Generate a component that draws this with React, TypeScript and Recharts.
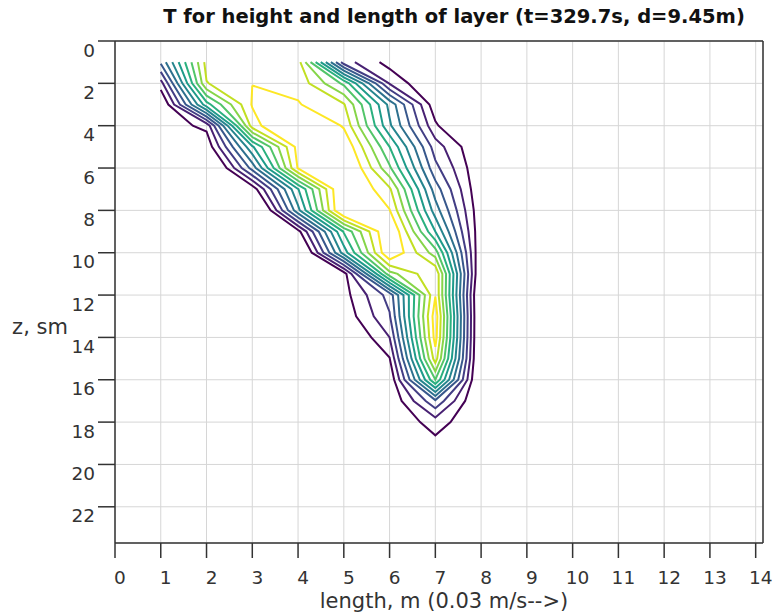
import React from "react";
import { CartesianGrid, ReferenceLine, Scatter, ScatterChart, XAxis, YAxis } from "recharts";

// grid nodes of the temperature field
const xNodes = [1, 2, 3, 4, 5, 6, 7, 8];
const zNodes = [1, 2, 3, 4, 5, 6, 7, 8, 9, 10, 11, 12, 13, 14, 15, 16, 17, 18, 19, 20];

// T along each column, z = 1 .. 20 (top to bottom)
const tAtX1 = [4.2, 1.58, -0.3, 0.3, -0.5, -1.67, -1.5, -2.78, -2, -2, -2, -2, -2, -2, -2, -2, -2, -2, 0, 0];
const tAtX2 = [11.36, 10.95, 7.59, 1.3, 0.2, -1.67, -1.5, -2.78, -2, -2, -2, -2, -2, -2, -2, -2, -2, -2, 0, 0];
const tAtX3 = [11.8, 11.99, 12.09, 11.5, 6.84, 4.4, 0.34, -2.14, -2, -2, -2, -2, -2, -2, -2, -2, -2, -2, 0, 0];
const tAtX4 = [11.45, 11.7, 12.075, 14.0, 12.39, 12.1, 6.94, 5.71, 0.63, -1.34, -2, -2, -2, -2, -2, -2, -2, -2, 0, 0];
const tAtX5 = [2.45, 8.78, 11.1, 11.85, 13, 13.73, 13.54, 13.57, 8.1, 6.47, 0.48, 0.6, 0.3, -0.5, -1, -2, -2, -2, 0, 0];
const tAtX6 = [0.59, 1.9, 5.7, 6.18, 8, 9.18, 11.17, 12.05, 13.3, 13.13, 9.6, 3.4, 2.9, 2.0, 0.95, 0.11, 0, 0, 0, 0];
const tAtX7 = [0, -0.3, 0.3, 1.2, 2.5, 3.3, 4.5, 5.5, 7.0, 9.5, 11.9, 11.95, 12.6, 12.4, 11.5, 9.0, 3.8, 1.5, 0.7, 0];
const tAtX8 = [0, -0.3, -0.5, -1.7, -0.13, 0, 0, 0.14, 0.1, -0.16, -0.49, -1, -1, -1, -1, -1, -0.5, 0, 0, 0];

const levels = [1, 2, 3, 4, 5, 6, 7, 8, 9, 10, 11, 12];
const levelColors = [
  "#440154", "#482173", "#433e85", "#38588c", "#2d708e", "#25858e",
  "#1e9b8a", "#2ab07f", "#52c569", "#86d549", "#c2df23", "#fde725",
];

const xTicks = [0, 1, 2, 3, 4, 5, 6, 7, 8, 9, 10, 11, 12, 13, 14];
const zTicks = [0, 2, 4, 6, 8, 10, 12, 14, 16, 18, 20, 22];

const X_MAX = 14.16;
const Z_MAX = 23.71;
const FONT = "DejaVu Sans, sans-serif";

type Pt = { x: number; z: number };

function buildGrid(): number[][] {
  const cols = [tAtX1, tAtX2, tAtX3, tAtX4, tAtX5, tAtX6, tAtX7, tAtX8];
  return zNodes.map((_, j) => cols.map((c) => c[j]));
}

// marching squares, segments joined into polylines
function contour(grid: number[][], level: number): Pt[][] {
  const pts = new Map<string, Pt>();
  const segs: [string, string][] = [];
  const up = (v: number) => v >= level;

  const edge = (key: string, i1: number, j1: number, i2: number, j2: number) => {
    if (!pts.has(key)) {
      const v1 = grid[j1][i1];
      const v2 = grid[j2][i2];
      const t = (level - v1) / (v2 - v1);
      pts.set(key, {
        x: xNodes[i1] + t * (xNodes[i2] - xNodes[i1]),
        z: zNodes[j1] + t * (zNodes[j2] - zNodes[j1]),
      });
    }
    return key;
  };

  for (let j = 0; j < zNodes.length - 1; j++) {
    for (let i = 0; i < xNodes.length - 1; i++) {
      const a = grid[j][i];
      const b = grid[j][i + 1];
      const c = grid[j + 1][i + 1];
      const d = grid[j + 1][i];
      const top = up(a) !== up(b) ? edge(`h${i},${j}`, i, j, i + 1, j) : null;
      const right = up(b) !== up(c) ? edge(`v${i + 1},${j}`, i + 1, j, i + 1, j + 1) : null;
      const bottom = up(d) !== up(c) ? edge(`h${i},${j + 1}`, i, j + 1, i + 1, j + 1) : null;
      const left = up(a) !== up(d) ? edge(`v${i},${j}`, i, j, i, j + 1) : null;
      const found = [top, right, bottom, left].filter((e): e is string => e !== null);
      if (found.length === 2) {
        segs.push([found[0], found[1]]);
      } else if (found.length === 4) {
        const center = (a + b + c + d) / 4;
        if (up(center) === up(a)) {
          segs.push([top!, right!]);
          segs.push([bottom!, left!]);
        } else {
          segs.push([top!, left!]);
          segs.push([right!, bottom!]);
        }
      }
    }
  }

  const adj = new Map<string, number[]>();
  segs.forEach((s, k) => {
    for (const e of s) {
      if (!adj.has(e)) adj.set(e, []);
      adj.get(e)!.push(k);
    }
  });

  const used = segs.map(() => false);
  const lines: Pt[][] = [];
  const grow = (chain: string[]) => {
    for (;;) {
      const end = chain[chain.length - 1];
      const next = (adj.get(end) || []).find((k) => !used[k]);
      if (next === undefined) return;
      used[next] = true;
      const s = segs[next];
      chain.push(s[0] === end ? s[1] : s[0]);
    }
  };

  segs.forEach((s, k) => {
    if (used[k]) return;
    used[k] = true;
    const chain = [s[0], s[1]];
    grow(chain);
    chain.reverse();
    grow(chain);
    lines.push(chain.map((key) => pts.get(key)!));
  });
  return lines;
}

const NoDot = () => <g />;

const XTick = (props: any) => (
  <text x={props.x + 5} y={577} textAnchor="middle" dominantBaseline="central" fontSize={18.5} fill="#333" fontFamily={FONT}>
    {props.payload.value}
  </text>
);

const YTick = (props: any) => (
  <text x={95} y={props.y + 9} textAnchor="end" dominantBaseline="central" fontSize={18.5} fill="#333" fontFamily={FONT}>
    {props.payload.value}
  </text>
);

export default function App() {
  const grid = buildGrid();
  const series = levels.flatMap((lv, li) =>
    contour(grid, lv).map((line, k) => ({ key: `c${lv}-${k}`, color: levelColors[li], data: line }))
  );

  return (
    <div style={{ position: "relative", width: 781, height: 612, fontFamily: FONT }}>
      <style>{"body{margin:0;background:#fff}"}</style>
      <div
        style={{
          position: "absolute",
          left: 0,
          width: 908,
          top: 5,
          textAlign: "center",
          fontWeight: "bold",
          fontSize: 19.5,
          color: "#111",
          whiteSpace: "nowrap",
        }}
      >
        T for height and length of layer (t=329.7s, d=9.45m)
      </div>
      <ScatterChart width={781} height={612} margin={{ top: 41, right: 18, bottom: 0, left: 55 }}>
        <CartesianGrid stroke="#d6d6d6" strokeWidth={1} />
        <XAxis
          type="number"
          dataKey="x"
          domain={[0, X_MAX]}
          ticks={xTicks}
          allowDataOverflow
          height={69}
          tickSize={15}
          tick={XTick}
          axisLine={{ stroke: "#333", strokeWidth: 1.5 }}
          tickLine={{ stroke: "#333", strokeWidth: 1.5 }}
          label={() => (
            <text x={444} y={601} textAnchor="middle" dominantBaseline="central" fontSize={21} fill="#333" fontFamily={FONT}>
              length, m (0.03 m/s--&gt;)
            </text>
          )}
        />
        <YAxis
          type="number"
          dataKey="z"
          domain={[0, Z_MAX]}
          ticks={zTicks}
          reversed
          allowDataOverflow
          width={60}
          tickSize={17}
          tick={YTick}
          axisLine={{ stroke: "#333", strokeWidth: 1.5 }}
          tickLine={{ stroke: "#333", strokeWidth: 1.5 }}
          label={() => (
            <text x={40} y={327} textAnchor="middle" dominantBaseline="central" fontSize={21} fill="#333" fontFamily={FONT}>
              z, sm
            </text>
          )}
        />
        <ReferenceLine y={0} stroke="#333" strokeWidth={1.5} />
        <ReferenceLine x={X_MAX} stroke="#333" strokeWidth={1.5} />
        {series.map((s) => (
          <Scatter
            key={s.key}
            data={s.data}
            fill={s.color}
            stroke={s.color}
            line={{ stroke: s.color, strokeWidth: 2 }}
            lineType="joint"
            shape={NoDot}
            legendType="none"
            isAnimationActive={false}
          />
        ))}
      </ScatterChart>
    </div>
  );
}
